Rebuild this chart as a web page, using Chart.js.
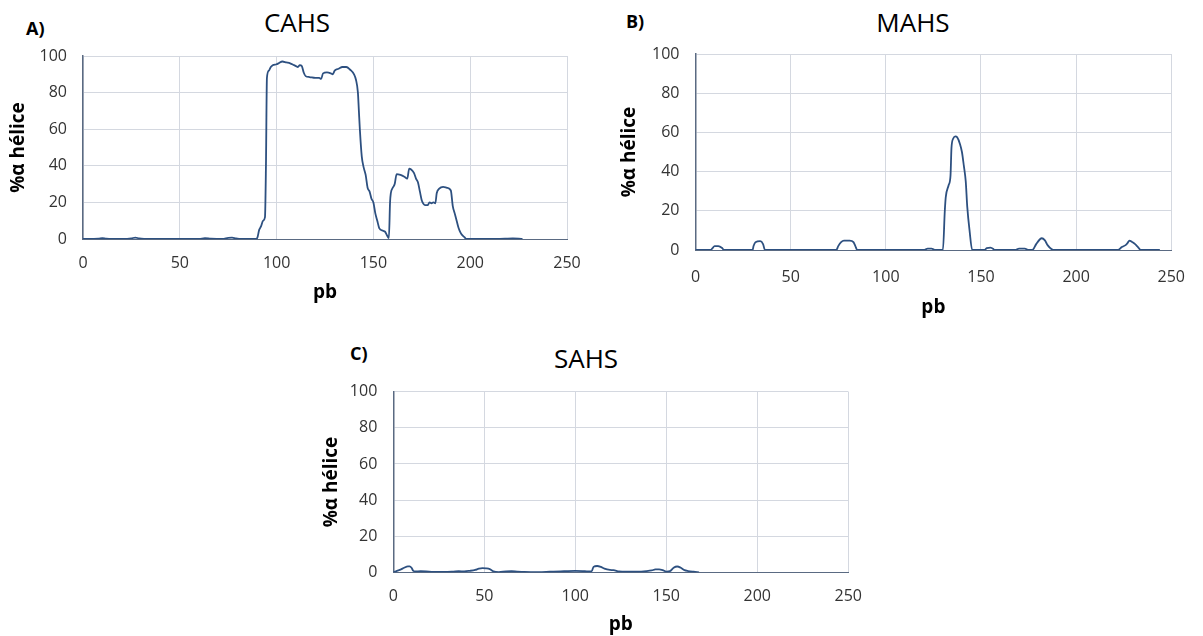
<!DOCTYPE html>
<html>
<head>
<meta charset="utf-8">
<script src="https://cdn.jsdelivr.net/npm/chart.js@4.4.0/dist/chart.umd.min.js"></script>
<style>
    body { margin: 0; background: #fff; width: 1203px; height: 636px; position: relative; overflow: hidden; font-family: "Open Sans", sans-serif; }
    canvas { position: absolute; }
    .tag { position: absolute; font-weight: bold; font-size: 18px; line-height: 18px; color: #000; }
    .ttl { position: absolute; width: 200px; text-align: center; font-size: 26px; line-height: 26px; color: #000; }
</style>
</head>
<body>
<div class="tag" style="left:26px;top:19px">A)</div>
<div class="ttl" style="left:197px;top:9px">CAHS</div>
<div class="tag" style="left:626px;top:12px">B)</div>
<div class="ttl" style="left:813px;top:9px">MAHS</div>
<div class="tag" style="left:350px;top:344px">C)</div>
<div class="ttl" style="left:486px;top:345px">SAHS</div>

<canvas id="cahs-graph" width="600" height="320" style="left:0;top:0"></canvas>
<canvas id="mahs-graph" width="603" height="320" style="left:600px;top:0"></canvas>
<canvas id="sahs-graph" width="580" height="306" style="left:300px;top:330px"></canvas>

<script>
// pb positions and % alpha helix
const cahsPb = [0, 8, 10, 12, 20, 25, 27, 29, 35, 50, 60, 63, 66, 72, 75, 77, 79, 82, 89, 90, 91, 92, 93, 94, 94.5, 95, 96, 97, 98, 100, 101, 103, 105, 107, 109, 110, 111, 112, 113, 114, 115, 117, 120, 122, 123, 124, 126, 128, 129, 130, 132, 134, 136, 138, 140, 141, 142, 142.5, 143, 144, 145, 146, 147, 148, 149, 150, 151, 152, 153, 155, 156, 157, 158, 158.6, 159, 160, 161, 162, 164, 166, 167.5, 168.5, 169.5, 171, 172, 173, 174, 175, 176, 177, 178, 179, 180, 181, 182, 182.7, 184, 186, 188, 190, 191, 192, 193, 194, 195, 196, 197, 198, 210, 218, 222, 225, 227];
const cahsHelix = [0, 0.2, 0.5, 0.2, 0, 0.3, 0.8, 0.3, 0, 0, 0, 0.5, 0.2, 0, 0.6, 0.8, 0.3, 0, 0, 0.5, 5, 7, 10, 12, 40, 88, 92, 94, 95, 95.5, 96, 97, 96.5, 96, 95, 94.5, 94, 95, 94.5, 91, 89, 88.5, 88, 88, 87.5, 90.5, 91, 90.5, 90, 92, 93, 94, 94, 92.5, 90, 87, 80, 70, 60, 45, 39, 35, 28, 26, 22, 20, 14, 10, 6, 4.5, 4, 2, 0.5, 20, 25, 28, 30, 35.5, 35, 34, 33, 38.5, 38, 36, 33, 31, 26, 21, 19, 18.5, 18.5, 20, 19.5, 20, 19.5, 25, 27.5, 28.5, 28, 26.5, 18, 14, 10, 6, 3.5, 2, 1, 0, 0, 0.2, 0.3, 0.2, 0];

const mahsPb = [0, 8, 9, 10, 12, 14, 15, 30, 30.5, 31.5, 34, 35.5, 36.5, 74, 75, 76.5, 78, 81, 83, 84, 85, 120, 122, 124, 126, 130, 131, 131.5, 133, 134, 134.5, 135.5, 136.5, 137.5, 139, 140, 141, 142, 142.8, 144, 145.4, 152, 153, 155, 156.5, 157, 168, 170, 173, 175, 177, 179, 181, 182, 183.5, 185, 187, 188, 222, 224, 226, 227, 228, 229.5, 231, 232.5, 234, 244];
const mahsHelix = [0, 0, 1, 2, 2, 1, 0, 0, 2, 4, 4.5, 3, 0, 0, 2, 4, 4.8, 4.8, 4, 2, 0, 0, 0.7, 0.7, 0, 0, 20, 27, 33, 38, 52, 57, 58, 57.5, 54, 50, 43, 35, 22, 10, 0, 0, 1, 1.2, 0.5, 0, 0, 0.7, 0.7, 0, 0, 3, 5.5, 6, 5, 2.5, 0.5, 0, 0, 1.5, 2.5, 3.5, 4.8, 4, 3, 1.5, 0, 0];

const sahsPb = [0, 2, 4, 6, 8, 9, 10, 11, 12, 15, 18, 22, 28, 33, 36, 39, 42, 45, 47, 49, 51, 53, 55, 58, 62, 65, 68, 72, 80, 86, 92, 96, 100, 104, 107, 109, 110, 112, 114, 116, 119, 121, 124, 128, 134, 139, 142, 144, 146, 148, 150, 152, 154, 156, 158, 160, 162, 165, 168];
const sahsHelix = [0, 0.8, 1.5, 2.5, 3.3, 3.3, 2.5, 0.8, 0.5, 0.6, 0.5, 0.2, 0.2, 0.4, 0.6, 0.5, 0.8, 1.3, 2, 2.3, 2.2, 1.8, 0.5, 0.1, 0.5, 0.6, 0.4, 0.2, 0.1, 0.3, 0.5, 0.7, 0.8, 0.7, 0.5, 0.5, 3, 3.5, 3, 2, 1.3, 1.2, 0.5, 0.3, 0.3, 0.6, 1, 1.6, 1.6, 1.2, 0.4, 0.6, 2.5, 3.2, 2.5, 1.2, 0.7, 0.3, 0];

const xTicks = [0, 50, 100, 150, 200, 250];
const yTicks = [0, 20, 40, 60, 80, 100];

const lineColor = '#2d5080';
const gridColor = '#d4d8e0';
const axisColor = '#5a6a82';
const tickColor = '#333333';
const fontFamily = '"Open Sans", sans-serif';

const toPoints = (xs, ys) => xs.map((x, i) => ({ x: x, y: ys[i] }));

const makeChart = (id, xs, ys, lay) => {
    const el = document.getElementById(id);
    return new Chart(el, {
        type: 'scatter',
        data: {
            datasets: [{
                data: toPoints(xs, ys),
                showLine: true,
                borderColor: lineColor,
                borderWidth: 1.8,
                pointRadius: 0,
                cubicInterpolationMode: 'monotone',
            }]
        },
        options: {
            responsive: false,
            animation: false,
            devicePixelRatio: 1,
            layout: { padding: { top: lay.top, left: 0, right: lay.right, bottom: 0 } },
            plugins: { legend: { display: false }, tooltip: { enabled: false } },
            scales: {
                x: {
                    type: 'linear',
                    min: xTicks[0],
                    max: xTicks[xTicks.length - 1],
                    afterBuildTicks: (scale) => { scale.ticks = xTicks.map(v => ({ value: v })); },
                    afterFit: (scale) => { scale.height = lay.xHeight; },
                    ticks: { padding: lay.xPad, color: tickColor, maxRotation: 0, font: { family: fontFamily, size: 16 } },
                    grid: { color: gridColor, drawTicks: false },
                    border: { color: axisColor, width: 1 },
                    title: { display: true, text: 'pb', color: '#000', font: { family: fontFamily, size: 19, weight: 'bold' }, padding: { top: 0, bottom: lay.xTitlePad } },
                },
                y: {
                    min: yTicks[0],
                    max: yTicks[yTicks.length - 1],
                    afterBuildTicks: (scale) => { scale.ticks = yTicks.map(v => ({ value: v })); },
                    afterFit: (scale) => { scale.width = lay.yWidth; },
                    ticks: { padding: 16, color: tickColor, font: { family: fontFamily, size: 16 } },
                    grid: { color: gridColor, drawTicks: false },
                    border: { color: axisColor, width: 1.5 },
                    title: { display: true, text: '%α hélice', color: '#000', font: { family: fontFamily, size: 19, weight: 'bold' }, padding: { top: lay.yTitlePad, bottom: 0 } },
                },
            },
        },
    });
};

let cahsGraph = makeChart('cahs-graph', cahsPb, cahsHelix,
    { top: 56, right: 33, yWidth: 83, xHeight: 81, xPad: 15, xTitlePad: 15.6, yTitlePad: 7.6 });
let mahsGraph = makeChart('mahs-graph', mahsPb, mahsHelix,
    { top: 54, right: 21.5, yWidth: 95.5, xHeight: 70, xPad: 18, xTitlePad: 0.6, yTitlePad: 18.2 });
let sahsGraph = makeChart('sahs-graph', sahsPb, sahsHelix,
    { top: 61.7, right: 31.7, yWidth: 93.3, xHeight: 63.7, xPad: 15, xTitlePad: 0, yTitlePad: 20.6 });
</script>
</body>
</html>
